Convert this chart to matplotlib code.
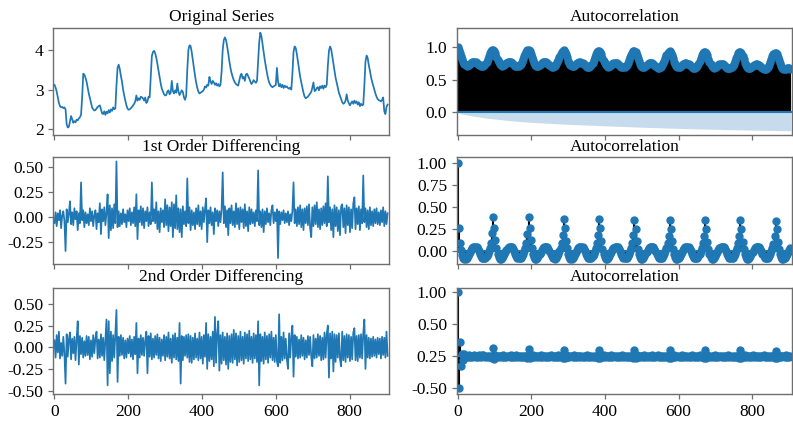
import numpy as np
import matplotlib
matplotlib.use("Agg")
import matplotlib.pyplot as plt
from matplotlib.ticker import FormatStrFormatter, FixedLocator, FixedFormatter

plt.rcParams['font.family'] = ['Liberation Serif', 'DejaVu Serif']
plt.rcParams['font.size'] = 12.5
plt.rcParams['axes.unicode_minus'] = False

# sampling step (time steps / lags) of the values
STEP = 3

orig = [
    3.12, 3.05, 2.95, 2.80, 2.66, 2.58, 2.55, 2.56, 2.53, 2.55,
    2.50, 2.12, 2.04, 2.06, 2.20, 2.33, 2.25, 2.16, 2.20, 2.17,
    2.24, 2.22, 2.27, 2.30, 2.36, 2.80, 3.40, 3.38, 3.30, 3.20,
    3.05, 2.90, 2.78, 2.65, 2.55, 2.50, 2.47, 2.48, 2.52, 2.56,
    2.58, 2.60, 2.50, 2.40, 2.38, 2.45, 2.36, 2.44, 2.40, 2.48,
    2.42, 2.50, 2.46, 2.55, 2.50, 2.52, 3.10, 3.55, 3.63, 3.52,
    3.35, 3.20, 3.00, 2.85, 2.72, 2.60, 2.52, 2.49, 2.50, 2.53,
    2.56, 2.60, 2.64, 2.70, 2.85, 2.72, 2.78, 2.74, 2.82, 2.80,
    2.78, 2.72, 2.80, 2.66, 2.70, 2.82, 2.80, 3.30, 3.85, 3.95,
    3.98, 3.92, 3.80, 3.65, 3.48, 3.30, 3.15, 3.02, 2.95, 2.88,
    2.85, 2.86, 2.95, 2.98, 2.88, 2.92, 3.22, 2.96, 2.90, 2.98,
    2.92, 3.15, 2.95, 2.86, 2.92, 2.98, 2.94, 2.80, 2.74, 2.85,
    3.50, 4.00, 4.12, 4.10, 3.95, 3.75, 3.55, 3.35, 3.18, 3.05,
    2.95, 2.90, 2.92, 2.94, 2.96, 3.00, 3.08, 3.05, 3.12, 3.10,
    3.32, 3.20, 3.14, 3.22, 3.18, 3.12, 3.16, 3.10, 3.14, 3.08,
    3.12, 3.45, 4.00, 4.25, 4.32, 4.25, 4.10, 3.92, 3.72, 3.55,
    3.42, 3.32, 3.24, 3.18, 3.14, 3.12, 3.10, 3.22, 3.35, 3.40,
    3.28, 3.32, 3.22, 3.38, 3.40, 3.34, 3.28, 3.20, 3.14, 3.18,
    3.24, 3.20, 3.17, 3.22, 3.70, 4.20, 4.44, 4.35, 4.15, 3.95,
    3.75, 3.58, 3.42, 3.28, 3.18, 3.12, 3.08, 3.06, 3.08, 3.10,
    3.12, 3.55, 3.20, 3.08, 3.14, 3.06, 3.12, 3.04, 3.10, 3.06,
    3.08, 3.04, 3.02, 3.05, 3.00, 3.40, 3.95, 4.09, 4.05, 3.90,
    3.70, 3.50, 3.32, 3.18, 3.05, 2.92, 2.82, 2.78, 2.80, 2.82,
    2.86, 2.90, 2.94, 3.05, 3.18, 2.96, 2.98, 3.04, 3.06, 2.98,
    3.08, 3.04, 3.10, 3.02, 3.10, 3.06, 3.12, 3.60, 3.98, 4.09,
    4.02, 3.85, 3.66, 3.48, 3.30, 3.18, 3.05, 2.92, 2.84, 2.76,
    2.68, 2.64, 2.66, 2.72, 2.88, 2.72, 2.65, 2.60, 2.66, 2.70,
    2.64, 2.72, 2.66, 2.70, 2.62, 2.68, 2.58, 2.64, 2.60, 2.62,
    3.10, 3.70, 3.86, 3.80, 3.62, 3.48, 3.32, 3.20, 3.10, 3.00,
    2.90, 2.82, 2.76, 2.73, 2.72, 2.70, 2.74, 2.80, 2.45, 2.38,
    2.56, 2.62,
]

diff1 = [
    -0.06, 0.05, -0.09, 0.04, -0.03, 0.07, -0.11, 0.02, 0.06, -0.04,
    -0.34, 0.08, -0.05, 0.03, 0.16, -0.07, 0.05, -0.08, 0.09, -0.02,
    0.06, -0.13, 0.04, -0.06, 0.35, -0.03, 0.07, -0.10, 0.05, -0.06,
    0.03, -0.08, 0.09, -0.04, 0.06, -0.09, 0.02, 0.07, -0.12, 0.04,
    -0.05, 0.14, -0.17, 0.08, -0.04, 0.10, -0.08, 0.05, 0.23, -0.21,
    0.12, -0.13, 0.09, -0.11, 0.13, -0.06, 0.56, -0.10, 0.06, -0.09,
    0.04, -0.07, 0.08, -0.05, 0.03, -0.10, 0.07, -0.04, 0.09, -0.08,
    0.05, -0.06, 0.10, -0.09, 0.23, -0.22, 0.07, -0.05, 0.11, -0.08,
    0.09, -0.11, 0.06, -0.04, 0.10, -0.09, 0.05, -0.07, 0.35, -0.04,
    0.08, -0.06, 0.15, -0.12, 0.06, -0.15, 0.09, -0.05, 0.07, -0.10,
    0.18, -0.08, 0.12, -0.14, 0.10, -0.09, 0.15, -0.20, 0.13, -0.11,
    0.22, -0.12, 0.09, -0.15, 0.08, -0.20, 0.11, -0.07, 0.06, -0.09,
    0.39, -0.06, 0.10, -0.13, 0.07, -0.08, 0.05, -0.12, 0.09, -0.07,
    0.12, -0.09, 0.06, -0.12, 0.10, -0.05, 0.08, 0.19, -0.25, 0.07,
    -0.06, 0.10, -0.08, 0.05, -0.17, 0.09, -0.04, 0.07, -0.09, 0.06,
    -0.05, 0.08, 0.45, -0.06, 0.11, -0.10, 0.07, -0.18, 0.09, -0.06,
    0.12, -0.08, 0.06, -0.10, 0.14, -0.07, 0.09, -0.12, 0.10, -0.05,
    0.08, -0.11, 0.13, -0.09, 0.06, -0.14, 0.10, -0.07, 0.08, -0.06,
    0.05, -0.09, 0.07, -0.04, 0.47, -0.08, 0.06, -0.10, 0.08, -0.15,
    0.06, -0.07, 0.09, -0.05, 0.04, -0.08, 0.07, 0.12, -0.06, 0.05,
    -0.04, 0.08, -0.41, 0.06, -0.07, 0.05, -0.03, 0.07, -0.06, 0.04,
    -0.05, 0.06, -0.08, 0.03, -0.04, 0.07, 0.35, -0.06, 0.08, -0.09,
    0.10, -0.07, 0.12, -0.10, 0.08, -0.13, 0.09, -0.06, 0.11, -0.08,
    0.13, -0.11, -0.20, 0.10, -0.09, 0.12, -0.07, 0.15, -0.10, 0.08,
    -0.12, 0.09, -0.08, 0.11, -0.06, 0.14, -0.09, 0.41, -0.05, 0.10,
    -0.13, 0.08, -0.20, 0.12, -0.09, 0.10, -0.14, 0.07, -0.18, 0.11,
    0.13, -0.10, 0.09, -0.16, 0.12, -0.08, 0.10, -0.15, 0.08, -0.11,
    0.14, 0.20, -0.12, 0.09, -0.07, 0.11, -0.13, 0.08, -0.06, 0.42,
    -0.05, 0.09, -0.10, 0.07, -0.12, 0.10, -0.08, 0.06, -0.09, 0.08,
    -0.06, 0.09, -0.07, 0.05, -0.08, 0.07, -0.05, 0.10, -0.09, 0.06,
    -0.07, 0.04,
]

diff2 = [
    0.08, -0.12, 0.14, -0.06, 0.18, -0.13, 0.05, -0.10, 0.12, -0.08,
    -0.42, 0.15, -0.11, 0.09, 0.17, -0.14, 0.10, -0.07, 0.12, -0.15,
    0.09, 0.30, -0.20, 0.13, -0.08, 0.11, -0.12, 0.07, -0.10, 0.13,
    -0.09, 0.12, -0.14, 0.08, -0.11, 0.14, -0.07, 0.10, 0.18, -0.13,
    0.09, -0.12, 0.15, -0.10, 0.11, -0.15, 0.08, 0.32, -0.44, 0.30,
    -0.30, 0.18, -0.16, 0.14, -0.12, 0.16, 0.43, -0.40, 0.12, -0.10,
    0.14, -0.09, 0.11, -0.13, 0.08, -0.12, 0.10, -0.07, 0.13, -0.11,
    0.09, -0.14, 0.12, -0.08, 0.28, -0.30, 0.10, -0.12, 0.14, -0.09,
    0.11, -0.10, 0.08, 0.18, -0.30, 0.13, -0.11, 0.16, -0.14, 0.10,
    -0.12, 0.13, -0.09, 0.15, -0.13, 0.11, -0.16, 0.09, -0.10, 0.14,
    -0.15, 0.12, -0.11, 0.17, -0.13, 0.10, -0.18, 0.14, -0.12, 0.16,
    -0.14, 0.11, -0.16, 0.28, -0.42, 0.13, -0.15, 0.12, -0.10, 0.14,
    -0.12, 0.15, -0.17, 0.13, -0.18, 0.11, -0.14, 0.16, -0.12, 0.10,
    -0.15, 0.17, -0.13, 0.12, -0.19, 0.14, -0.11, 0.28, -0.25, 0.15,
    -0.16, 0.12, -0.14, 0.18, -0.22, 0.35, -0.18, 0.16, 0.30, -0.27,
    0.14, -0.19, 0.17, -0.15, 0.12, -0.20, 0.16, -0.25, 0.13, -0.17,
    0.15, -0.18, 0.20, -0.14, 0.16, -0.21, 0.13, -0.17, 0.18, -0.15,
    0.12, -0.19, 0.17, -0.13, 0.15, -0.16, 0.19, -0.14, 0.12, -0.18,
    0.16, -0.13, 0.14, -0.17, 0.30, -0.44, 0.15, -0.16, 0.12, -0.19,
    0.17, -0.14, 0.13, -0.18, 0.15, -0.12, 0.18, -0.15, 0.11, -0.17,
    0.14, -0.16, -0.22, 0.38, -0.18, 0.12, -0.15, 0.17, -0.13, 0.10,
    -0.14, -0.25, 0.16, -0.12, 0.13, 0.25, -0.34, 0.14, -0.11, 0.12,
    -0.13, 0.09, -0.12, 0.14, -0.10, 0.11, -0.14, 0.08, -0.12, 0.13,
    -0.09, 0.12, -0.11, -0.22, 0.14, -0.13, 0.10, -0.12, 0.15, -0.10,
    0.13, -0.15, 0.11, -0.14, 0.17, -0.12, 0.15, 0.25, -0.35, 0.16,
    -0.13, 0.18, -0.28, 0.15, -0.17, 0.14, -0.12, 0.16, -0.14, -0.22,
    0.18, -0.15, 0.13, -0.17, 0.15, -0.12, 0.14, -0.16, 0.12, -0.14,
    0.17, 0.22, -0.15, 0.13, -0.16, 0.14, -0.12, 0.15, -0.13, 0.16,
    0.32, -0.25, 0.14, -0.12, 0.11, -0.13, 0.10, -0.11, 0.12, -0.10,
    0.09, -0.12, 0.11, -0.08, 0.10, -0.13, 0.12, -0.09, 0.11, -0.12,
    0.18, -0.10,
]

acf_orig = [
    1.00, 0.96, 0.91, 0.86, 0.81, 0.77, 0.74, 0.72, 0.715, 0.72,
    0.73, 0.745, 0.76, 0.77, 0.775, 0.775, 0.77, 0.76, 0.745, 0.73,
    0.72, 0.71, 0.71, 0.715, 0.72, 0.74, 0.77, 0.81, 0.86, 0.90,
    0.935, 0.955,
    0.96, 0.94, 0.90, 0.85, 0.80, 0.765, 0.735, 0.72, 0.715, 0.72,
    0.73, 0.745, 0.76, 0.77, 0.775, 0.775, 0.77, 0.76, 0.745, 0.73,
    0.715, 0.705, 0.705, 0.71, 0.72, 0.74, 0.77, 0.81, 0.855, 0.895,
    0.93, 0.95,
    0.955, 0.935, 0.895, 0.845, 0.795, 0.76, 0.73, 0.715, 0.71, 0.715,
    0.725, 0.74, 0.755, 0.765, 0.77, 0.77, 0.765, 0.755, 0.74, 0.725,
    0.71, 0.70, 0.70, 0.705, 0.715, 0.735, 0.765, 0.805, 0.85, 0.89,
    0.925, 0.945,
    0.95, 0.93, 0.89, 0.84, 0.79, 0.755, 0.725, 0.71, 0.705, 0.71,
    0.72, 0.735, 0.75, 0.76, 0.765, 0.765, 0.76, 0.75, 0.735, 0.72,
    0.705, 0.695, 0.695, 0.70, 0.71, 0.73, 0.76, 0.80, 0.845, 0.885,
    0.92, 0.94,
    0.945, 0.925, 0.885, 0.835, 0.785, 0.75, 0.72, 0.705, 0.70, 0.705,
    0.715, 0.73, 0.745, 0.755, 0.76, 0.76, 0.755, 0.745, 0.73, 0.715,
    0.70, 0.69, 0.69, 0.695, 0.705, 0.725, 0.755, 0.795, 0.84, 0.88,
    0.915, 0.935,
    0.94, 0.92, 0.88, 0.83, 0.78, 0.745, 0.715, 0.70, 0.695, 0.70,
    0.71, 0.725, 0.74, 0.75, 0.755, 0.755, 0.75, 0.74, 0.725, 0.71,
    0.695, 0.685, 0.685, 0.69, 0.70, 0.72, 0.75, 0.79, 0.835, 0.875,
    0.91, 0.93,
    0.935, 0.915, 0.875, 0.825, 0.775, 0.74, 0.71, 0.695, 0.69, 0.695,
    0.705, 0.72, 0.735, 0.745, 0.75, 0.75, 0.745, 0.735, 0.72, 0.705,
    0.69, 0.68, 0.68, 0.685, 0.695, 0.715, 0.745, 0.785, 0.83, 0.87,
    0.905, 0.925,
    0.93, 0.91, 0.87, 0.82, 0.77, 0.735, 0.705, 0.69, 0.685, 0.69,
    0.70, 0.715, 0.73, 0.74, 0.745, 0.745, 0.74, 0.73, 0.715, 0.70,
    0.685, 0.675, 0.675, 0.68, 0.69, 0.71, 0.74, 0.78, 0.825, 0.865,
    0.90, 0.92,
    0.92, 0.90, 0.86, 0.81, 0.76, 0.725, 0.695, 0.68, 0.675, 0.68,
    0.69, 0.705, 0.72, 0.73, 0.735, 0.735, 0.73, 0.72, 0.705, 0.69,
    0.675, 0.665, 0.665, 0.67, 0.68, 0.70, 0.73, 0.77, 0.815, 0.855,
    0.89, 0.91,
    0.91, 0.89, 0.85, 0.80, 0.75, 0.715, 0.685, 0.67, 0.665, 0.67,
    0.675, 0.68, 0.675, 0.67,
]

acf_d1 = [
    1.00, 0.265, 0.09, 0.01, -0.045, -0.075, -0.09, -0.09, -0.08, -0.06,
    -0.035, -0.01, 0.015, 0.035, 0.045, 0.05, 0.05, 0.04, 0.02, -0.005,
    -0.03, -0.055, -0.075, -0.085, -0.085, -0.075, -0.055, -0.03, -0.005, 0.03,
    0.09, 0.20,
    0.39, 0.265, 0.12, 0.03, -0.03, -0.07, -0.09, -0.09, -0.08, -0.06,
    -0.035, -0.01, 0.015, 0.035, 0.045, 0.05, 0.05, 0.04, 0.02, -0.005,
    -0.03, -0.055, -0.075, -0.085, -0.085, -0.075, -0.055, -0.03, -0.005, 0.03,
    0.09, 0.19,
    0.385, 0.265, 0.12, 0.03, -0.03, -0.07, -0.09, -0.095, -0.08, -0.06,
    -0.035, -0.01, 0.015, 0.035, 0.045, 0.05, 0.045, 0.04, 0.02, -0.005,
    -0.03, -0.055, -0.075, -0.085, -0.09, -0.075, -0.055, -0.03, -0.005, 0.03,
    0.09, 0.18,
    0.365, 0.26, 0.11, 0.03, -0.03, -0.07, -0.09, -0.09, -0.08, -0.06,
    -0.035, -0.01, 0.015, 0.035, 0.045, 0.05, 0.05, 0.04, 0.02, -0.005,
    -0.03, -0.055, -0.075, -0.085, -0.085, -0.075, -0.055, -0.03, -0.005, 0.03,
    0.09, 0.18,
    0.365, 0.26, 0.11, 0.025, -0.03, -0.07, -0.09, -0.09, -0.08, -0.06,
    -0.035, -0.01, 0.015, 0.03, 0.045, 0.05, 0.045, 0.04, 0.02, -0.005,
    -0.03, -0.055, -0.075, -0.085, -0.085, -0.075, -0.055, -0.03, -0.005, 0.03,
    0.085, 0.18,
    0.355, 0.255, 0.11, 0.025, -0.03, -0.07, -0.09, -0.09, -0.08, -0.06,
    -0.035, -0.01, 0.015, 0.035, 0.045, 0.05, 0.05, 0.04, 0.02, -0.005,
    -0.03, -0.055, -0.075, -0.085, -0.085, -0.075, -0.055, -0.03, -0.005, 0.03,
    0.085, 0.17,
    0.355, 0.255, 0.11, 0.025, -0.03, -0.07, -0.09, -0.09, -0.08, -0.06,
    -0.035, -0.01, 0.015, 0.035, 0.045, 0.05, 0.045, 0.04, 0.02, -0.005,
    -0.03, -0.055, -0.075, -0.085, -0.085, -0.075, -0.055, -0.03, -0.005, 0.03,
    0.085, 0.17,
    0.355, 0.25, 0.105, 0.025, -0.03, -0.07, -0.09, -0.09, -0.08, -0.06,
    -0.035, -0.01, 0.015, 0.035, 0.045, 0.05, 0.05, 0.04, 0.02, -0.005,
    -0.03, -0.055, -0.075, -0.085, -0.085, -0.075, -0.055, -0.03, -0.005, 0.03,
    0.085, 0.17,
    0.355, 0.25, 0.105, 0.025, -0.03, -0.07, -0.09, -0.09, -0.08, -0.06,
    -0.035, -0.01, 0.015, 0.035, 0.045, 0.05, 0.045, 0.04, 0.02, -0.005,
    -0.03, -0.055, -0.075, -0.085, -0.085, -0.075, -0.055, -0.03, -0.005, 0.03,
    0.08, 0.165,
    0.345, 0.25, 0.10, 0.025, -0.03, -0.07, -0.09, -0.09, -0.08, -0.06,
    -0.035, -0.01, 0.015, 0.03,
]

acf_d2 = [
    1.00, -0.50, 0.22, -0.15, 0.04, -0.06, 0.03, -0.02, 0.01, -0.02,
    0.015, -0.01, 0.01, -0.015, 0.005, 0.02, -0.01, 0.01, -0.02, 0.015,
    0.00, -0.01, 0.02, 0.025, 0.01, -0.01, 0.005, -0.015, 0.01, -0.005,
    0.00, -0.03,
    0.13, -0.04, 0.02, -0.01, 0.01, -0.015, 0.005, 0.01, -0.01, 0.015,
    -0.005, 0.01, -0.015, 0.01, 0.005, -0.01, 0.015, -0.01, 0.005, -0.015,
    0.01, 0.02, -0.005, 0.01, -0.01, 0.005, -0.015, 0.01, -0.005, 0.01,
    0.00, -0.03,
    0.12, -0.035, 0.015, -0.01, 0.015, -0.01, 0.005, 0.01, -0.015, 0.01,
    -0.005, 0.015, -0.01, 0.005, 0.01, -0.015, 0.01, -0.005, 0.01, -0.01,
    0.015, 0.01, -0.01, 0.005, -0.015, 0.01, -0.01, 0.015, -0.005, 0.01,
    0.00, -0.025,
    0.095, -0.03, 0.02, -0.01, 0.01, -0.015, 0.01, 0.005, -0.01, 0.015,
    -0.01, 0.01, -0.015, 0.01, 0.005, -0.01, 0.01, -0.015, 0.005, -0.01,
    0.01, 0.015, -0.005, 0.01, -0.01, 0.005, -0.015, 0.01, -0.005, 0.01,
    0.00, -0.025,
    0.095, -0.03, 0.015, -0.01, 0.015, -0.01, 0.005, 0.01, -0.01, 0.01,
    -0.005, 0.015, -0.01, 0.005, 0.01, -0.015, 0.01, -0.005, 0.01, -0.015,
    0.01, 0.015, -0.01, 0.005, -0.01, 0.01, -0.015, 0.01, -0.005, 0.01,
    0.00, -0.025,
    0.09, -0.03, 0.02, -0.01, 0.01, -0.015, 0.005, 0.01, -0.01, 0.015,
    -0.005, 0.01, -0.015, 0.01, 0.005, -0.01, 0.015, -0.01, 0.005, -0.015,
    0.01, 0.02, -0.005, 0.01, -0.01, 0.005, -0.015, 0.01, -0.005, 0.01,
    0.00, -0.025,
    0.095, -0.03, 0.015, -0.01, 0.015, -0.01, 0.005, 0.01, -0.015, 0.01,
    -0.005, 0.015, -0.01, 0.005, 0.01, -0.015, 0.01, -0.005, 0.01, -0.01,
    0.015, 0.01, -0.01, 0.005, -0.015, 0.01, -0.01, 0.015, -0.005, 0.01,
    0.00, -0.025,
    0.09, -0.03, 0.02, -0.01, 0.01, -0.015, 0.01, 0.005, -0.01, 0.015,
    -0.01, 0.01, -0.015, 0.01, 0.005, -0.01, 0.01, -0.015, 0.005, -0.01,
    0.01, 0.015, -0.005, 0.01, -0.01, 0.005, -0.015, 0.01, -0.005, 0.01,
    0.00, -0.025,
    0.09, -0.03, 0.015, -0.01, 0.015, -0.01, 0.005, 0.01, -0.01, 0.01,
    -0.005, 0.015, -0.01, 0.005, 0.01, -0.015, 0.01, -0.005, 0.01, -0.015,
    0.01, 0.015, -0.01, 0.005, -0.01, 0.01, -0.015, 0.01, -0.005, 0.01,
    0.00, -0.025,
    0.085, -0.03, 0.02, -0.01, 0.01, -0.015, 0.005, 0.01, -0.01, 0.015,
    -0.005, 0.01, -0.015, 0.01,
]

# confidence band (half width) of the first autocorrelation panel
band_lags = [0, 10, 37, 82, 140, 200, 300, 400, 500, 600, 700, 800, 905]
band_half = [0.0, 0.025, 0.052, 0.09, 0.125, 0.152, 0.182, 0.204, 0.226,
             0.244, 0.258, 0.27, 0.28]

left_titles = ['Original Series', '1st Order Differencing', '2nd Order Differencing']
right_title = 'Autocorrelation'
x_ticks = [0, 200, 400, 600, 800]

BLUE = '#1f77b4'
GRAY = '#6e6e6e'

fig = plt.figure(figsize=(7.93, 4.21), dpi=100)

rows = [(0.6793, 0.2535), (0.3729, 0.2530), (0.0641, 0.2511)]
lx, lw_ = 0.0673, 0.4238
rx, rw_ = 0.5760, 0.4226

def style(ax, show_x):
    for s in ax.spines.values():
        s.set_color(GRAY)
        s.set_linewidth(1.0)
    ax.tick_params(colors=GRAY, labelcolor='black', length=3.5, width=0.9,
                   labelsize=12.5, labelbottom=show_x)
    ax.set_xlim(-3, 908)
    ax.set_xticks(x_ticks)

series = [orig, diff1, diff2]
acfs = [acf_orig, acf_d1, acf_d2]
left_ylims = [(1.85, 4.55), (-0.47, 0.60), (-0.54, 0.68)]
right_ylims = [(-0.345, 1.285), (-0.148, 1.062), (-0.59, 1.06)]

for r in range(3):
    b, h = rows[r]
    show_x = (r == 2)
    axl = fig.add_axes([lx, b, lw_, h])
    x = np.arange(len(series[r])) * STEP
    axl.plot(x, series[r], color=BLUE, lw=1.25)
    axl.set_title(left_titles[r], fontsize=12.5, pad=5)
    axl.set_ylim(*left_ylims[r])
    style(axl, show_x)

    axr = fig.add_axes([rx, b, rw_, h])
    lags = np.arange(len(acfs[r])) * STEP
    axr.vlines(lags, 0, acfs[r], colors='black', lw=1.5)
    axr.axhline(0, color=BLUE, lw=1.5)
    if r == 0:
        bl = np.array(band_lags)
        bh = np.array(band_half)
        axr.fill_between(bl, -bh, bh, color=BLUE, alpha=0.25, lw=0)
    axr.plot(lags, acfs[r], marker='o', markersize=5, linestyle='None', color=BLUE)
    axr.set_title(right_title, fontsize=12.5, pad=5)
    axr.set_ylim(*right_ylims[r])
    style(axr, show_x)

    if r == 0:
        axl.set_yticks([2, 3, 4])
        axr.set_yticks([0.0, 0.5, 1.0])
        axr.yaxis.set_major_formatter(FormatStrFormatter('%.1f'))
    elif r == 1:
        axl.set_yticks([-0.25, 0.0, 0.25, 0.5])
        axl.yaxis.set_major_formatter(FormatStrFormatter('%.2f'))
        axr.set_yticks([0.0, 0.25, 0.5, 0.75, 1.0])
        axr.yaxis.set_major_formatter(FormatStrFormatter('%.2f'))
    else:
        axl.set_yticks([-0.5, -0.25, 0.0, 0.25, 0.5])
        axl.yaxis.set_major_formatter(FormatStrFormatter('%.2f'))
        axr.yaxis.set_major_locator(FixedLocator([-0.5, 0.0, 0.5, 1.0]))
        axr.yaxis.set_major_formatter(FixedFormatter(['-0.50', '0.25', '0.50', '1.00']))

fig.savefig('out.png', dpi=100)
